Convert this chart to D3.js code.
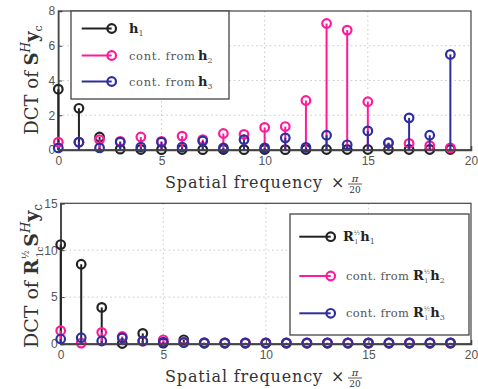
<!DOCTYPE html>
<html><head><meta charset="utf-8">
<script src="https://cdn.jsdelivr.net/npm/d3@7"></script>
<style>
body{margin:0;background:#fff;}
svg{display:block;}
.tick text{font-family:"Liberation Sans",Arial,sans-serif;font-size:12px;fill:#555;}
.lbl{font-family:"DejaVu Serif","Liberation Serif",serif;fill:#333;}
.leg{font-family:"DejaVu Serif","Liberation Serif",serif;fill:#555;font-size:11.5px;}
</style></head>
<body>
<script>
const freq = d3.range(20);
// Top panel: DCT of S^H y_c
const topH1   = [3.5,2.4,0.75,0.05,0.03,0.02,0.03,0.02,0.03,0.02,0.03,0.02,0.03,0.03,0.03,0.03,0.03,0.03,0.03,0.03];
const topH2   = [0.45,0.45,0.6,0.5,0.75,0.5,0.8,0.6,0.95,0.9,1.3,1.35,2.85,7.28,6.9,2.78,0.4,0.38,0.25,0.12];
const topH3   = [0.12,0.45,0.12,0.45,0.17,0.45,0.17,0.52,0.12,0.6,0.12,0.7,0.15,0.85,0.3,1.1,0.42,1.85,0.85,5.5];
// Bottom panel: DCT of R^{1/2} S^H y_c
const botH1   = [10.6,8.5,3.9,0.05,1.13,0.1,0.45,0.08,0.08,0.08,0.08,0.08,0.08,0.08,0.08,0.08,0.08,0.08,0.08,0.08];
const botH2   = [1.42,0.1,1.24,0.8,0.3,0.45,0.2,0.15,0.12,0.12,0.12,0.12,0.12,0.12,0.12,0.12,0.12,0.12,0.12,0.12];
const botH3   = [0.53,0.67,0.32,0.65,0.32,0.2,0.15,0.12,0.12,0.12,0.12,0.12,0.12,0.12,0.12,0.12,0.12,0.12,0.12,0.12];
const xTicks = [0,5,10,15,20];
const topYTicks = [0,2,4,6,8];
const botYTicks = [0,5,10,15];
const colors = ["#222222","#ff1a9c","#2e2e9e"];

const svg = d3.select("body").append("svg").attr("width",478).attr("height",389);

function panel(cfg){
  const x = d3.scaleLinear().domain([0,20]).range([cfg.left,cfg.right]);
  const y = d3.scaleLinear().domain([0,cfg.ymax]).range([cfg.bottom,cfg.top]);
  const g = svg.append("g");
  g.selectAll(".gx").data(xTicks.slice(1,-1)).join("line")
    .attr("x1",d=>x(d)).attr("x2",d=>x(d)).attr("y1",cfg.top).attr("y2",cfg.bottom)
    .attr("stroke","#c8c8c8").attr("stroke-dasharray","1.5,3").attr("stroke-width",1);
  g.selectAll(".gy").data(cfg.yTicks.slice(1,-1)).join("line")
    .attr("x1",cfg.left).attr("x2",cfg.right).attr("y1",d=>y(d)).attr("y2",d=>y(d))
    .attr("stroke","#c8c8c8").attr("stroke-dasharray","1.5,3").attr("stroke-width",1);
  g.append("rect").attr("x",cfg.left).attr("y",cfg.top).attr("width",cfg.right-cfg.left).attr("height",cfg.bottom-cfg.top)
    .attr("fill","none").attr("stroke","#444").attr("stroke-width",1.2);
  const xa = g.append("g").attr("transform",`translate(0,${cfg.bottom})`)
    .call(d3.axisBottom(x).tickValues(xTicks).tickSize(-4).tickPadding(6).tickFormat(d3.format("d")));
  const ya = g.append("g").attr("transform",`translate(${cfg.left},0)`)
    .call(d3.axisLeft(y).tickValues(cfg.yTicks).tickSize(-4).tickPadding(3).tickFormat(d3.format("d")));
  [xa,ya].forEach(a=>{a.select(".domain").attr("stroke","#444").attr("stroke-width",1.5);a.selectAll(".tick line").attr("stroke","#444");});
  cfg.series.forEach((s,i)=>{
    const sg = g.append("g");
    sg.selectAll("line").data(s).join("line")
      .attr("x1",(d,j)=>x(freq[j])).attr("x2",(d,j)=>x(freq[j]))
      .attr("y1",y(0)).attr("y2",d=>y(d))
      .attr("stroke",colors[i]).attr("stroke-width",2);
    sg.selectAll("circle").data(s).join("circle")
      .attr("cx",(d,j)=>x(freq[j])).attr("cy",d=>y(d)).attr("r",4.3)
      .attr("fill","none").attr("stroke",colors[i]).attr("stroke-width",2.2);
  });
  g.append("line").attr("x1",cfg.left).attr("x2",cfg.right).attr("y1",y(0)).attr("y2",y(0))
    .attr("stroke","#444").attr("stroke-width",1.5);
  return {x,y,g};
}

panel({left:58.3,right:471,top:11,bottom:150,ymax:8,yTicks:topYTicks,series:[topH1,topH2,topH3]});
panel({left:60.7,right:471,top:203.3,bottom:344,ymax:15,yTicks:botYTicks,series:[botH1,botH2,botH3]});

function xLabel(baseline){
  svg.append("text").attr("class","lbl").attr("x",165).attr("y",baseline).attr("font-size",16).attr("textLength",157).text("Spatial frequency");
  svg.append("text").attr("class","lbl").attr("x",331).attr("y",baseline).attr("font-size",16).text("×");
  svg.append("text").attr("class","lbl").attr("x",355).attr("y",baseline-6).attr("font-size",10).attr("font-style","italic").attr("text-anchor","middle").text("π");
  svg.append("line").attr("x1",348).attr("x2",362).attr("y1",baseline-4).attr("y2",baseline-4).attr("stroke","#333").attr("stroke-width",0.8);
  svg.append("text").attr("class","lbl").attr("x",355).attr("y",baseline+5).attr("font-size",9).attr("text-anchor","middle").text("20");
}
xLabel(188);
xLabel(382);

const yl1 = svg.append("text").attr("class","lbl").attr("font-size",18).attr("text-anchor","middle")
  .attr("transform","translate(38,80) rotate(-90)");
yl1.append("tspan").text("DCT of ");
yl1.append("tspan").attr("font-weight","bold").text("S");
yl1.append("tspan").attr("font-style","italic").attr("font-size",12).attr("dy",-8).text("H");
yl1.append("tspan").attr("font-weight","bold").attr("dy",8).text("y");
yl1.append("tspan").attr("font-size",11).attr("dy",4).text("c");

const yl2 = svg.append("text").attr("class","lbl").attr("font-size",19).attr("text-anchor","middle")
  .attr("transform","translate(38,276) rotate(-90)");
yl2.append("tspan").text("DCT of ");
yl2.append("tspan").attr("font-weight","bold").text("R");
yl2.append("tspan").attr("font-size",9).attr("dy",-9).text("½");
yl2.append("tspan").attr("font-size",9).attr("dy",14).attr("dx",-7).text("1c");
yl2.append("tspan").attr("font-weight","bold").attr("dy",-5).text("S");
yl2.append("tspan").attr("font-style","italic").attr("font-size",13).attr("dy",-8).text("H");
yl2.append("tspan").attr("font-weight","bold").attr("dy",8).text("y");
yl2.append("tspan").attr("font-size",12).attr("dy",4).text("c");

function legendBox(box, rows, lineX1, lineX2){
  svg.append("rect").attr("x",box[0]).attr("y",box[1]).attr("width",box[2]).attr("height",box[3])
    .attr("fill","#fff").attr("stroke","#444").attr("stroke-width",1.3);
  rows.forEach((r,i)=>{
    svg.append("line").attr("x1",lineX1).attr("x2",lineX2).attr("y1",r).attr("y2",r)
      .attr("stroke",colors[i]).attr("stroke-width",2);
    svg.append("circle").attr("cx",lineX2).attr("cy",r).attr("r",4.3).attr("fill","none")
      .attr("stroke",colors[i]).attr("stroke-width",2.2);
  });
}
function contText(x,y,len){
  svg.append("text").attr("class","leg").attr("x",x).attr("y",y).attr("textLength",len).text("cont.  from");
}
function hTerm(x,y,n){
  const t = svg.append("text").attr("class","leg").attr("x",x).attr("y",y);
  t.append("tspan").attr("font-weight","bold").attr("fill","#222").attr("font-size",13).text("h");
  t.append("tspan").attr("font-size",8).attr("dy",3).text(n);
}
function rTerm(x,y,n){
  const t = svg.append("text").attr("class","leg").attr("x",x).attr("y",y);
  t.append("tspan").attr("font-weight","bold").attr("fill","#222").attr("font-size",13).text("R");
  t.append("tspan").attr("font-size",6.5).attr("dy",-6).text("½");
  t.append("tspan").attr("font-size",6.5).attr("dy",9).attr("dx",-6).text("1");
  t.append("tspan").attr("font-weight","bold").attr("fill","#222").attr("font-size",13).attr("dy",-3).attr("dx",2).text("h");
  t.append("tspan").attr("font-size",8).attr("dy",3).text(n);
}
const topRows=[28.5,55.5,81.5];
legendBox([71,11,158,88],topRows,81.7,111.7);
hTerm(129,topRows[0]+4,"1");
contText(129,topRows[1]+4,66); hTerm(198,topRows[1]+4,"2");
contText(129,topRows[2]+4,66); hTerm(198,topRows[2]+4,"3");

const botRows=[236.7,276,313.3];
legendBox([290,214,179,121],botRows,299.3,330.7);
rTerm(343,botRows[0]+4,"1");
contText(346,botRows[1]+4,63); rTerm(413,botRows[1]+4,"2");
contText(346,botRows[2]+4,63); rTerm(413,botRows[2]+4,"3");
</script>
</body></html>
